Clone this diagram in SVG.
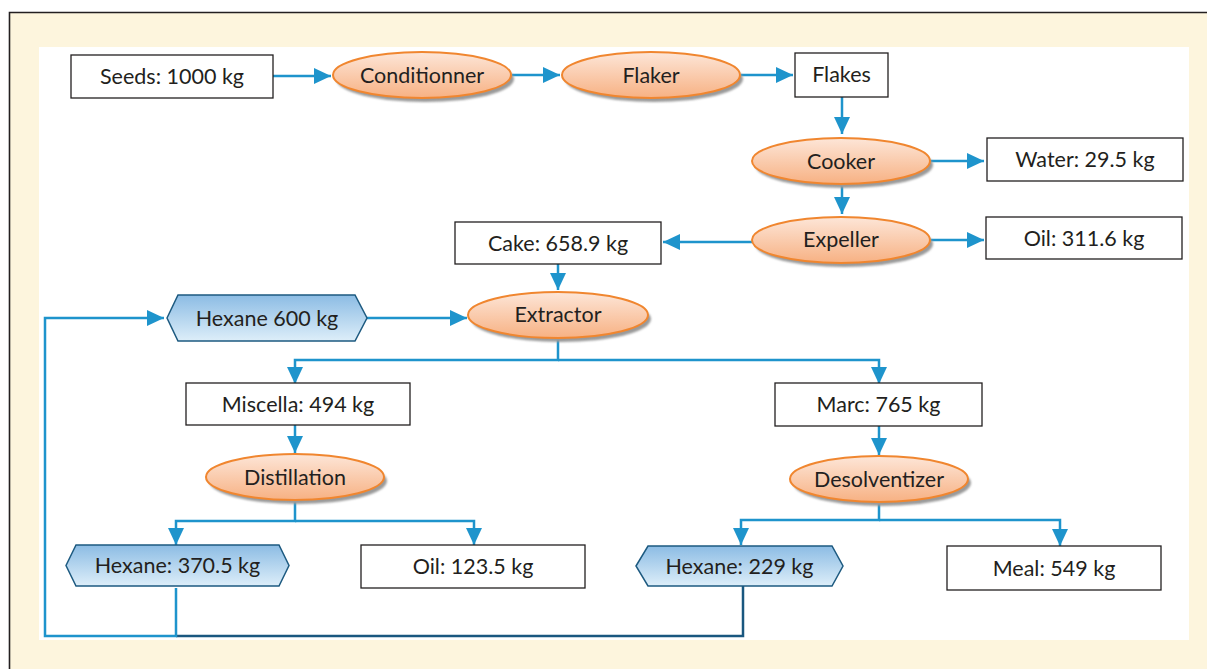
<svg xmlns="http://www.w3.org/2000/svg" width="1207" height="669" viewBox="0 0 1207 669">
<defs>
<linearGradient id="og" x1="0" y1="0" x2="0" y2="1"><stop offset="0" stop-color="#fde6d8"/><stop offset="1" stop-color="#f7b183"/></linearGradient>
<linearGradient id="bg" x1="0" y1="0" x2="0" y2="1"><stop offset="0" stop-color="#8cbce4"/><stop offset="1" stop-color="#ddeef9"/></linearGradient>
<filter id="sh" x="-10%" y="-20%" width="120%" height="150%"><feGaussianBlur stdDeviation="1"/></filter>
<marker id="ah" markerUnits="userSpaceOnUse" markerWidth="18" markerHeight="17" refX="17" refY="8" orient="auto"><path d="M0,0 L17,8 L0,16 z" fill="#1e94cc"/></marker>
<style>
.box{fill:#fff;stroke:#231f20;stroke-width:1.3}
.ell{fill:url(#og);stroke:#f0862f;stroke-width:2}
.shd{fill:#9a9a9a;filter:url(#sh)}
.hex{fill:url(#bg);stroke:#1d5a80;stroke-width:1.5}
.t{font-family:Lato,"Liberation Sans",sans-serif;font-size:21.5px;fill:#231f20;text-anchor:middle}
.c{fill:none;stroke:#1e94cc;stroke-width:2.5}
.cd{fill:none;stroke:#19577f;stroke-width:2.5}
.a{marker-end:url(#ah)}
</style>
</defs>
<rect x="9" y="12" width="1198" height="657" fill="#fdf5dd"/>
<path d="M9.5,669 V12.5 H1207" fill="none" stroke="#231f20" stroke-width="1.6"/>
<rect x="39" y="47" width="1150" height="593" fill="#fff"/>

<g id="connectors">
<path class="c a" d="M273,76 H331"/>
<path class="c a" d="M512,75 H560"/>
<path class="c a" d="M741,75 H793"/>
<path class="c a" d="M842,97 V134"/>
<path class="c a" d="M930,161 H984"/>
<path class="c a" d="M842,185 V214"/>
<path class="c a" d="M930,240 H984"/>
<path class="c a" d="M752,242 H663"/>
<path class="c a" d="M558,264 V290"/>
<path class="c a" d="M367,318 H467"/>
<path class="cd" d="M743,586 V636 H176"/>
<path class="c a" d="M176,588 V636 H45 V318 H164"/>
<path class="c a" d="M558,338 V360 H295 V384"/>
<path class="c a" d="M558,360 H879 V384"/>
<path class="c a" d="M295,425 V453"/>
<path class="c a" d="M879,426 V455"/>
<path class="c a" d="M295,500 V521 H176 V545"/>
<path class="c a" d="M295,521 H474 V545"/>
<path class="c a" d="M879,503 V520 H741 V545"/>
<path class="c a" d="M879,520 H1060 V546"/>
</g>

<g id="seeds"><rect class="box" x="71" y="55" width="202" height="43"/><text class="t" x="172" y="84">Seeds: 1000 kg</text></g>
<g id="conditionner"><ellipse class="shd" cx="425" cy="79" rx="89" ry="23"/><ellipse class="ell" cx="422" cy="75" rx="89" ry="23"/><text class="t" x="422" y="83">Conditionner</text></g>
<g id="flaker"><ellipse class="shd" cx="654" cy="79" rx="89" ry="23"/><ellipse class="ell" cx="651" cy="75" rx="89" ry="23"/><text class="t" x="651" y="83">Flaker</text></g>
<g id="flakes"><rect class="box" x="795" y="53" width="93" height="44"/><text class="t" x="841.5" y="82">Flakes</text></g>
<g id="cooker"><ellipse class="shd" cx="844" cy="165" rx="89" ry="23"/><ellipse class="ell" cx="841" cy="161" rx="89" ry="23"/><text class="t" x="841" y="169">Cooker</text></g>
<g id="water"><rect class="box" x="987" y="138" width="196" height="43"/><text class="t" x="1085" y="167">Water: 29.5 kg</text></g>
<g id="expeller"><ellipse class="shd" cx="844" cy="244" rx="89" ry="23"/><ellipse class="ell" cx="841" cy="240" rx="89" ry="23"/><text class="t" x="841" y="247">Expeller</text></g>
<g id="oil1"><rect class="box" x="986" y="217" width="196" height="42"/><text class="t" x="1084" y="246">Oil: 311.6 kg</text></g>
<g id="cake"><rect class="box" x="455" y="222" width="206" height="42"/><text class="t" x="558" y="251">Cake: 658.9 kg</text></g>
<g id="extractor"><ellipse class="shd" cx="561" cy="319" rx="90" ry="23"/><ellipse class="ell" cx="558" cy="315" rx="90" ry="23"/><text class="t" x="558" y="322">Extractor</text></g>
<g id="hexane600"><polygon class="hex" points="167,318 178,295 355,295 367,318 355,341 178,341"/><text class="t" x="267" y="326">Hexane 600 kg</text></g>
<g id="miscella"><rect class="box" x="186" y="383" width="224" height="42"/><text class="t" x="298" y="412">Miscella: 494 kg</text></g>
<g id="marc"><rect class="box" x="775" y="383" width="207" height="43"/><text class="t" x="878.5" y="412">Marc: 765 kg</text></g>
<g id="distillation"><ellipse class="shd" cx="298" cy="481" rx="89" ry="23"/><ellipse class="ell" cx="295" cy="477" rx="89" ry="23"/><text class="t" x="295" y="485">Distillation</text></g>
<g id="desolventizer"><ellipse class="shd" cx="882" cy="483" rx="89" ry="23"/><ellipse class="ell" cx="879" cy="479" rx="89" ry="23"/><text class="t" x="879" y="487">Desolventizer</text></g>
<g id="hexane370"><polygon class="hex" points="66,565.5 76,545 279,545 289,565.5 279,586 76,586"/><text class="t" x="177.5" y="573">Hexane: 370.5 kg</text></g>
<g id="oil2"><rect class="box" x="361" y="545" width="224" height="43"/><text class="t" x="473" y="574">Oil: 123.5 kg</text></g>
<g id="hexane229"><polygon class="hex" points="636,566 648,546 832,546 843,566 832,586 648,586"/><text class="t" x="739.5" y="574">Hexane: 229 kg</text></g>
<g id="meal"><rect class="box" x="947" y="546" width="214" height="44"/><text class="t" x="1054" y="576">Meal: 549 kg</text></g>
</svg>
